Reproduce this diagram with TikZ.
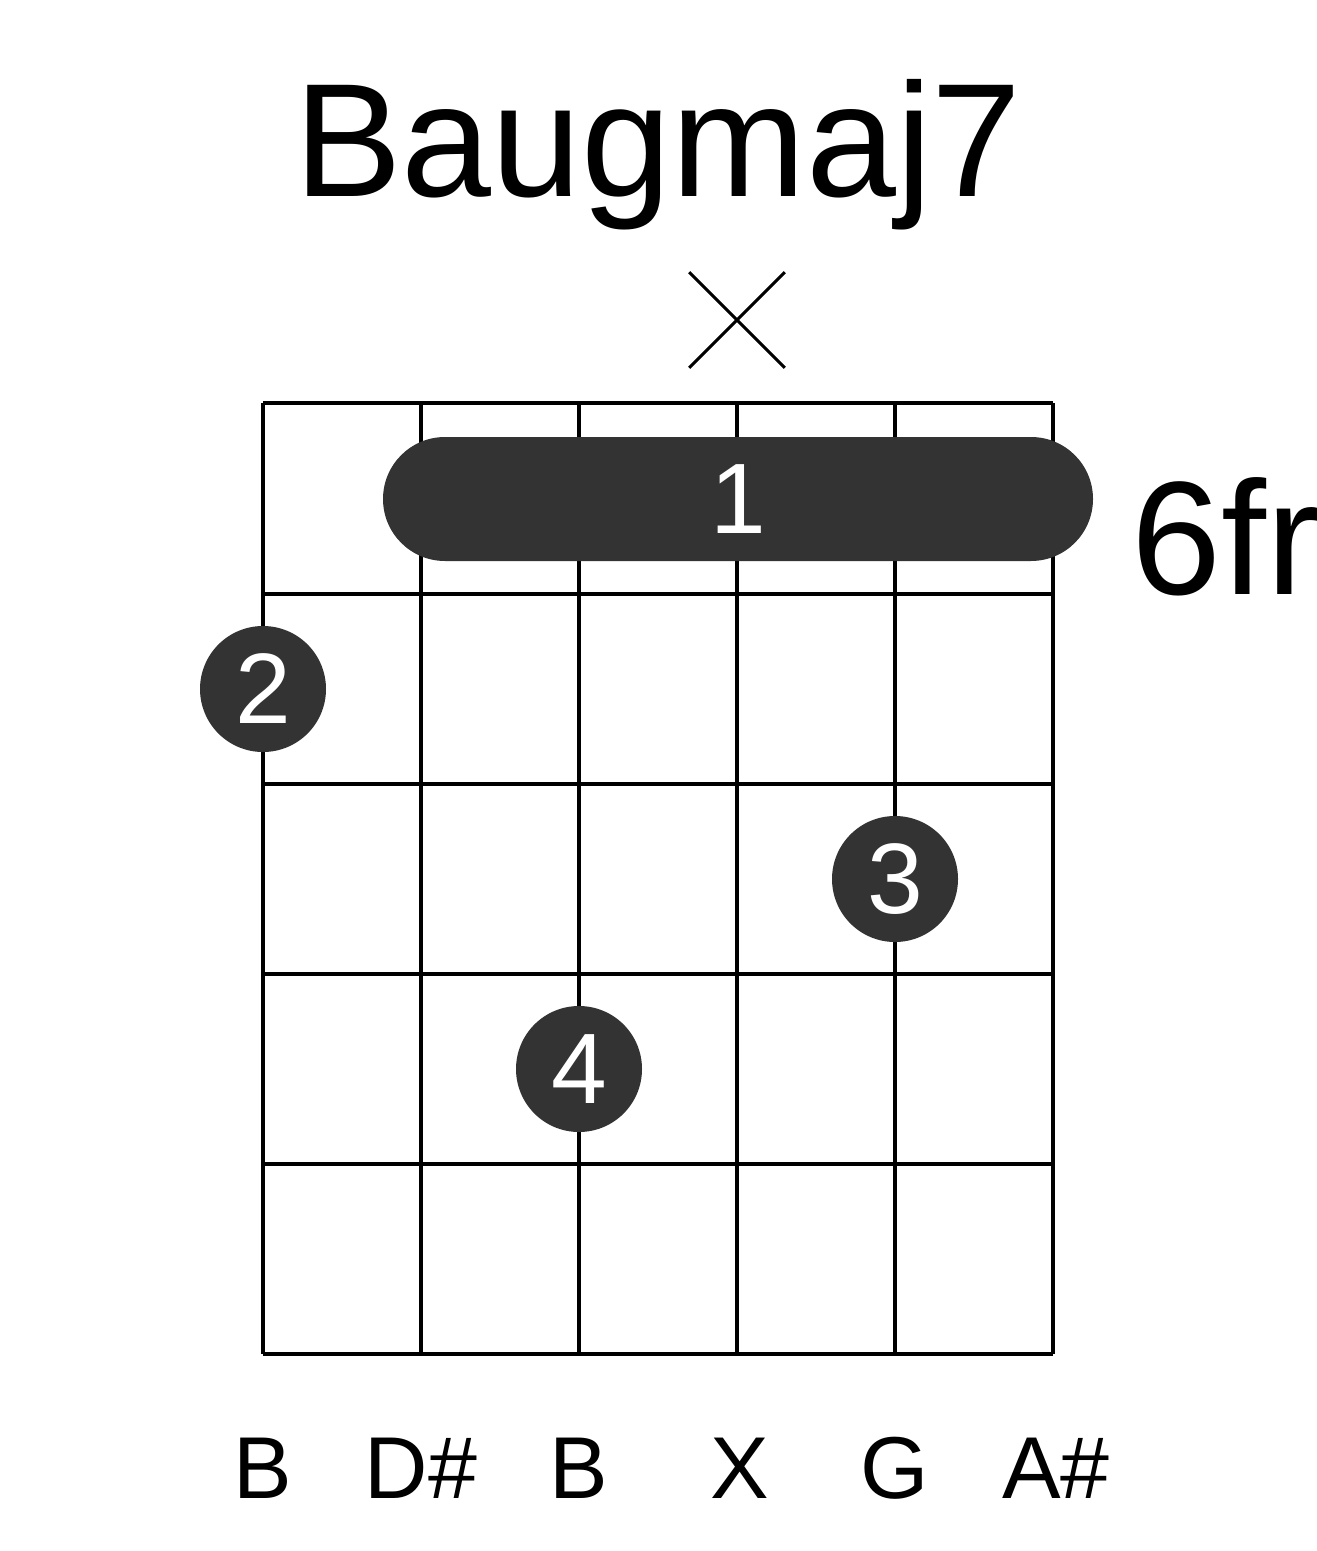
\documentclass[tikz,border=0pt]{standalone}
\usepackage{fontspec}
\setmainfont{Liberation Sans}
\definecolor{dotgray}{HTML}{333333}
\tikzset{
  fretline/.style={line width=4pt*0.567},
  fingerdot/.style={circle, fill=dotgray, minimum size=126*0.02cm, inner sep=0pt, text=white, font=\fontsize{57}{57}\selectfont},
  notename/.style={font=\fontsize{50}{50}\selectfont}
}
\begin{document}
\begin{tikzpicture}[x=0.02cm, y=-0.02cm]
    \useasboundingbox (0,0) rectangle (1317,1551);

    % Title
    \node[font=\fontsize{92}{92}\selectfont] (title) at (658,155) {Baugmaj7};

    % Grid
    \foreach \s in {263,421,579,737,895,1053}
        \draw[fretline] (\s,403) -- (\s,1354);
    \foreach \f in {403,594,784,974,1164,1354}
        \draw[fretline] (263,\f) -- (1053,\f);

    % Muted string
    \node[minimum size=95*0.02cm, inner sep=0pt] (mute) at (737,320) {};
    \draw[line width=3pt*0.567] (mute.north west) -- (mute.south east)
        (mute.north east) -- (mute.south west);

    % Barre
    \fill[dotgray, rounded corners=62*0.02cm] (383,437) rectangle (1093,561);
    \node[text=white, font=\fontsize{57}{57}\selectfont] (barre) at (738,499) {1};
    \node[anchor=west, font=\fontsize{92}{92}\selectfont] (fret) at (1125,537) {6fr};

    % Fingers
    \node[fingerdot] (two) at (263,689) {2};
    \node[fingerdot] (three) at (895,879) {3};
    \node[fingerdot] (four) at (579,1069) {4};

    % Note names
    \foreach \x/\n [count=\i] in {263/B,421/D\#,579/B,740/X,895/G,1056/A\#}
        \node[notename] (note\i) at (\x,1468) {\n};
\end{tikzpicture}
\end{document}
